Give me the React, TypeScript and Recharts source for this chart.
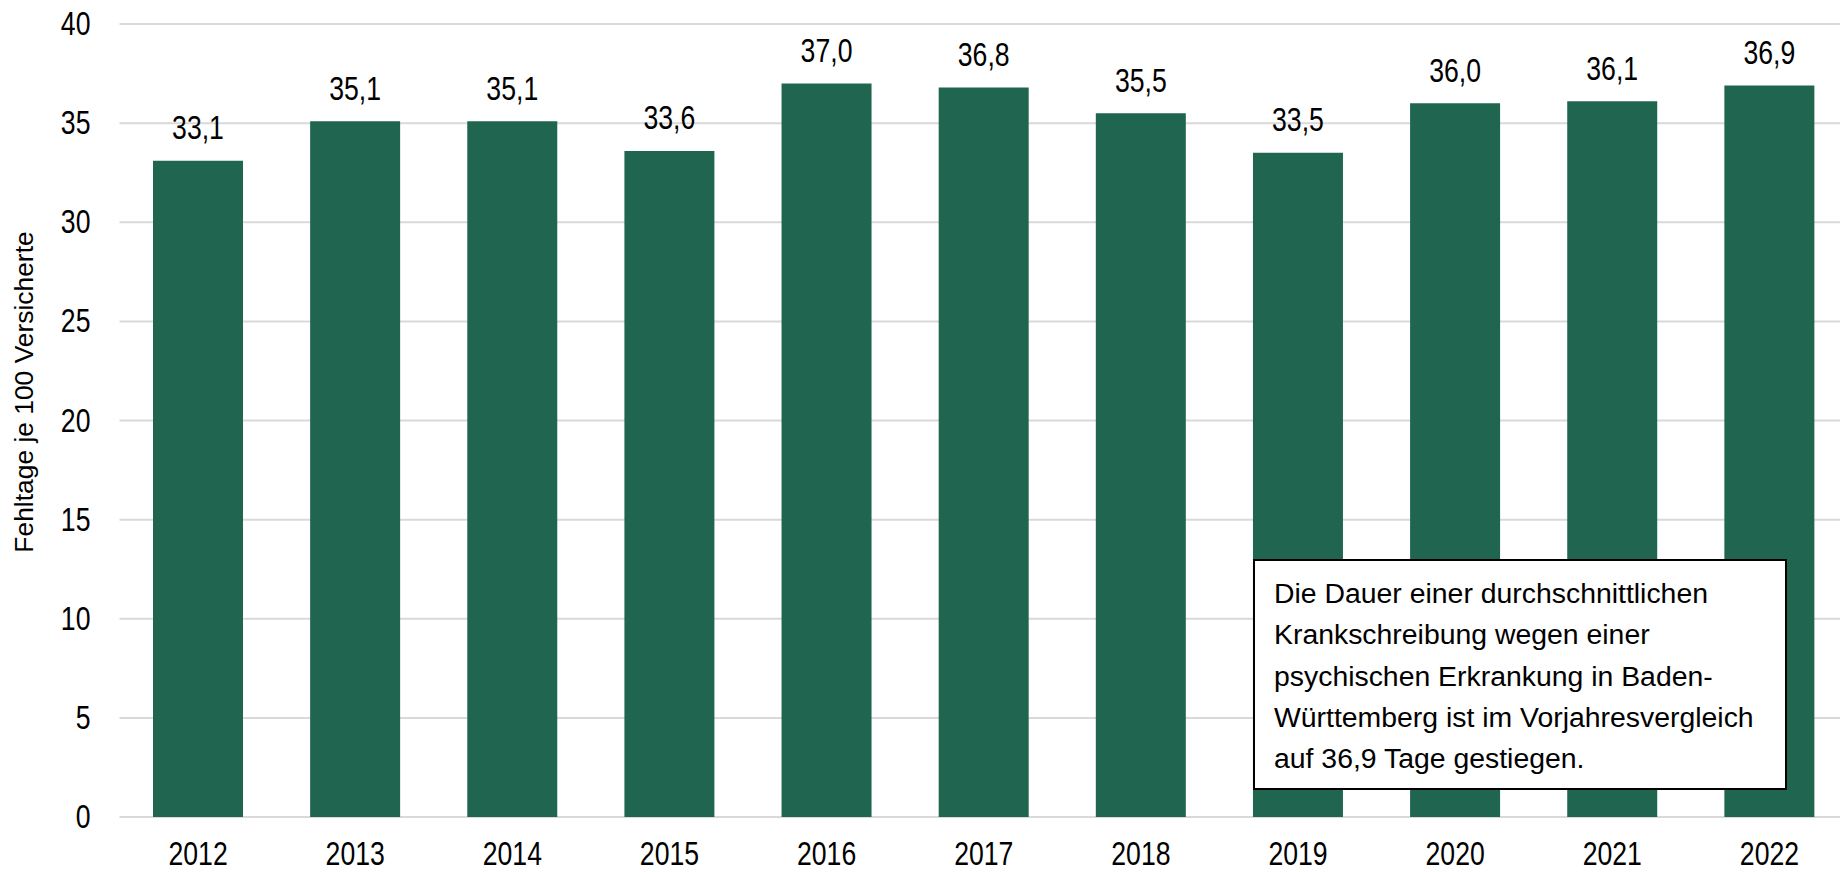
import { BarChart, Bar, XAxis, YAxis, CartesianGrid, LabelList } from "recharts";

const years = ["2012", "2013", "2014", "2015", "2016", "2017", "2018", "2019", "2020", "2021", "2022"];
const fehltage = [33.1, 35.1, 35.1, 33.6, 37.0, 36.8, 35.5, 33.5, 36.0, 36.1, 36.9];
const yTicks = [0, 5, 10, 15, 20, 25, 30, 35, 40];
const yLabel = "Fehltage je 100 Versicherte";
const noteLines = [
    "Die Dauer einer durchschnittlichen",
    "Krankschreibung wegen einer",
    "psychischen Erkrankung in Baden-",
    "Württemberg ist im Vorjahresvergleich",
    "auf 36,9 Tage gestiegen.",
];

const data = years.map((year, i) => ({ year, value: fehltage[i] }));

const FONT = '"Liberation Sans", Arial, sans-serif';
const NARROW = 0.82; // no Arial Narrow here, so squeeze the glyphs
const BIG = 32.5;

const fmt = (v: number) => v.toFixed(1).replace(".", ",");

// text drawn narrow: scale only in x around the anchor point
function NarrowText({ x, y, anchor, children }: any) {
    return (
        <g transform={`translate(${x},${y}) scale(${NARROW},1)`}>
            <text x={0} y={0} textAnchor={anchor} fontSize={BIG} fontFamily={FONT} fill="#000">
                {children}
            </text>
        </g>
    );
}

function XTick(props: any) {
    const { x, y, payload } = props;
    // y is the top of the tick text, shift to baseline
    return (
        <NarrowText x={x} y={y + 23} anchor="middle">
            {payload.value}
        </NarrowText>
    );
}

function YTick(props: any) {
    const { x, y, payload } = props;
    return (
        <NarrowText x={x} y={y + 11} anchor="end">
            {payload.value}
        </NarrowText>
    );
}

function BarValue(props: any) {
    const { x, y, width, value } = props;
    return (
        <NarrowText x={x + width / 2} y={y - 21.5} anchor="middle">
            {fmt(Number(value))}
        </NarrowText>
    );
}

function YLabel(props: any) {
    const { viewBox } = props;
    const x = viewBox.x + 33;
    const y = viewBox.y + viewBox.height / 2 - 28.5;
    return (
        <text
            x={x}
            y={y}
            transform={`rotate(-90, ${x}, ${y})`}
            textAnchor="middle"
            fontSize={26.4}
            fontFamily={FONT}
            fill="#000"
        >
            {yLabel}
        </text>
    );
}

export default function App() {
    return (
        <div
            style={{
                position: "fixed",
                top: 0,
                left: 0,
                width: 1840,
                height: 872,
                overflow: "hidden",
                background: "#fff",
                fontFamily: FONT,
            }}
        >
            <BarChart
                width={1850}
                height={872}
                data={data}
                margin={{ top: 24, right: 2, bottom: 0, left: 0 }}
                barCategoryGap={33.5}
            >
                <CartesianGrid vertical={false} stroke="#d9d9d9" strokeWidth={2} />
                <XAxis
                    dataKey="year"
                    height={55}
                    axisLine={false}
                    tickLine={false}
                    tickSize={0}
                    tickMargin={25}
                    tick={<XTick />}
                />
                <YAxis
                    width={119.5}
                    domain={[0, 40]}
                    ticks={yTicks}
                    axisLine={false}
                    tickLine={false}
                    tickSize={0}
                    tickMargin={29}
                    tick={<YTick />}
                    label={<YLabel />}
                />
                <Bar dataKey="value" fill="#20654f" isAnimationActive={false}>
                    <LabelList dataKey="value" content={<BarValue />} />
                </Bar>
            </BarChart>
            <div
                style={{
                    position: "absolute",
                    left: 1253,
                    top: 559,
                    width: 530,
                    height: 227,
                    border: "2px solid #000",
                    background: "#fff",
                    boxSizing: "content-box",
                }}
            >
                <div style={{ paddingTop: 12, paddingLeft: 19, fontSize: 28.4, lineHeight: "41.3px", color: "#000" }}>
                    {noteLines.map((l) => (
                        <div key={l} style={{ whiteSpace: "nowrap" }}>
                            {l}
                        </div>
                    ))}
                </div>
            </div>
        </div>
    );
}
